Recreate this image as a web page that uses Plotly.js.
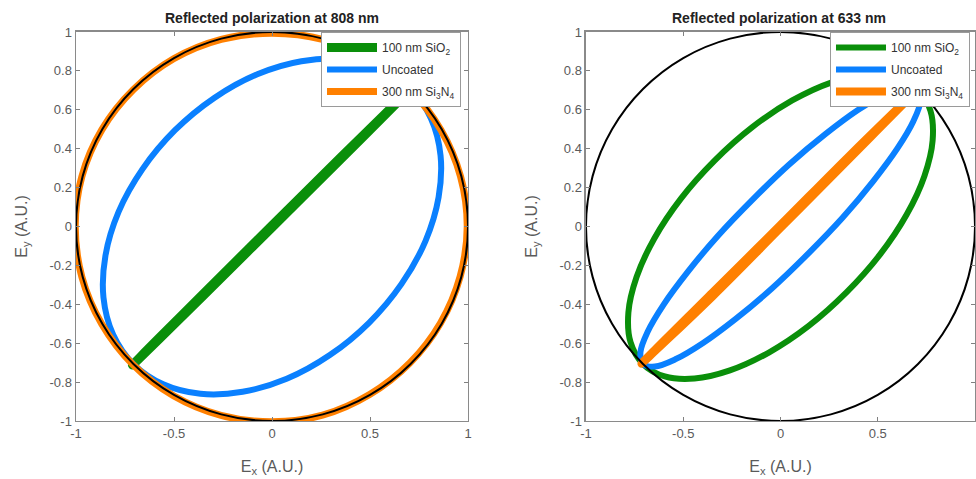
<!DOCTYPE html>
<html>
<head>
<meta charset="utf-8">
<script src="https://cdn.plot.ly/plotly-3.0.1.min.js"></script>
<style>html,body{margin:0;padding:0;background:#fff;}#chart{width:976px;height:479px;}</style>
</head>
<body>
<div id="chart"></div>
<script>
// ---- Data ----
const seriesNames = ["100 nm SiO<sub>2</sub>", "Uncoated", "300 nm Si<sub>3</sub>N<sub>4</sub>"];
const panelTitles = ["Reflected polarization at 808 nm", "Reflected polarization at 633 nm"];
const xTickVals = [-1, -0.5, 0, 0.5, 1];
const xTickText = ["-1", "-0.5", "0", "0.5", "1"];
const yTickVals = [-1, -0.8, -0.6, -0.4, -0.2, 0, 0.2, 0.4, 0.6, 0.8, 1];
const yTickText = ["-1", "-0.8", "-0.6", "-0.4", "-0.2", "0", "0.2", "0.4", "0.6", "0.8", "1"];

// Reference unit circle (black)
const circleX = [1, 0.966, 0.866, 0.707, 0.5, 0.259, 0, -0.259, -0.5, -0.707, -0.866, -0.966, -1, -0.966, -0.866, -0.707, -0.5, -0.259, 0, 0.259, 0.5, 0.707, 0.866, 0.966, 1];
const circleY = [0, 0.259, 0.5, 0.707, 0.866, 0.966, 1, 0.966, 0.866, 0.707, 0.5, 0.259, 0, -0.259, -0.5, -0.707, -0.866, -0.966, -1, -0.966, -0.866, -0.707, -0.5, -0.259, 0];

// 808 nm panel
const sio2_808_x = [-0.712, -0.35, 0, 0.35, 0.707, 0.35, 0, -0.35, -0.712];
const sio2_808_y = [-0.712, -0.345, 0.005, 0.355, 0.707, 0.345, -0.005, -0.355, -0.712];
const unc_808_x = [0.707, 0.811, 0.860, 0.850, 0.783, 0.661, 0.495, 0.295, 0.075, -0.150, -0.365, -0.555, -0.707, -0.811, -0.860, -0.850, -0.783, -0.661, -0.495, -0.295, -0.075, 0.150, 0.365, 0.555, 0.707];
const unc_808_y = [0.707, 0.555, 0.365, 0.150, -0.075, -0.295, -0.495, -0.661, -0.783, -0.850, -0.860, -0.811, -0.707, -0.555, -0.365, -0.150, 0.075, 0.295, 0.495, 0.661, 0.783, 0.850, 0.860, 0.811, 0.707];
const si3n4_808_x = [0.996, 0.962, 0.862, 0.704, 0.497, 0.257, 0, -0.259, -0.502, -0.708, -0.868, -0.970, -1.004, -0.970, -0.868, -0.710, -0.503, -0.260, 0, 0.258, 0.498, 0.703, 0.860, 0.960, 0.996];
const si3n4_808_y = [0, 0.257, 0.496, 0.703, 0.862, 0.962, 0.994, 0.962, 0.862, 0.703, 0.498, 0.258, 0, -0.260, -0.503, -0.710, -0.870, -0.971, -1.004, -0.970, -0.864, -0.702, -0.496, -0.257, 0];

// 633 nm panel
const sio2_633_x = [0.707, 0.771, 0.782, 0.740, 0.648, 0.511, 0.339, 0.145, -0.060, -0.260, -0.442, -0.595, -0.707, -0.771, -0.782, -0.740, -0.648, -0.511, -0.339, -0.145, 0.060, 0.260, 0.442, 0.595, 0.707];
const sio2_633_y = [0.707, 0.595, 0.442, 0.260, 0.060, -0.145, -0.339, -0.511, -0.648, -0.740, -0.782, -0.771, -0.707, -0.595, -0.442, -0.260, -0.060, 0.145, 0.339, 0.511, 0.648, 0.740, 0.782, 0.771, 0.707];
const unc_633_x = [0.707, 0.720, 0.683, 0.600, 0.476, 0.320, 0.141, -0.046, -0.232, -0.400, -0.541, -0.646, -0.707, -0.720, -0.683, -0.600, -0.476, -0.320, -0.141, 0.046, 0.232, 0.400, 0.541, 0.646, 0.707];
const unc_633_y = [0.707, 0.646, 0.541, 0.400, 0.232, 0.046, -0.141, -0.320, -0.476, -0.600, -0.683, -0.720, -0.707, -0.646, -0.541, -0.400, -0.232, -0.046, 0.141, 0.320, 0.476, 0.600, 0.683, 0.720, 0.707];
const si3n4_633_x = [0.705, 0.35, 0.0, -0.35, -0.715, -0.35, 0.0, 0.35, 0.705];
const si3n4_633_y = [0.705, 0.345, -0.008, -0.36, -0.705, -0.34, 0.008, 0.36, 0.705];

// ---- Styles ----
const colors = ["#0a8f0a", "#0a80ff", "#ff8000"];
const FONT = "Liberation Sans, Arial, Helvetica, sans-serif";

function tr(x, y, i, panel, width) {
  return {
    x: x, y: y, type: "scatter", mode: "lines",
    name: seriesNames[i],
    line: {color: colors[i], width: width, shape: "spline", smoothing: 1},
    xaxis: panel === 0 ? "x" : "x2",
    yaxis: panel === 0 ? "y" : "y2",
    legend: panel === 0 ? "legend" : "legend2",
    legendgroup: "g" + i + "p" + panel,
    hoverinfo: "skip"
  };
}
function circ(panel) {
  return {
    x: circleX, y: circleY, type: "scatter", mode: "lines", showlegend: false,
    line: {color: "#000", width: 2, shape: "spline", smoothing: 1},
    xaxis: panel === 0 ? "x" : "x2", yaxis: panel === 0 ? "y" : "y2", hoverinfo: "skip"
  };
}

const data = [
  tr(sio2_808_x, sio2_808_y, 0, 0, 9),
  tr(unc_808_x, unc_808_y, 1, 0, 6),
  tr(si3n4_808_x, si3n4_808_y, 2, 0, 7),
  circ(0),
  tr(sio2_633_x, sio2_633_y, 0, 1, 6),
  tr(unc_633_x, unc_633_y, 1, 1, 6),
  tr(si3n4_633_x, si3n4_633_y, 2, 1, 8),
  circ(1)
];

function xax(domain, anchor) {
  return {
    domain: domain, anchor: anchor, range: [-1, 1], tickvals: xTickVals, ticktext: xTickText,
    ticks: "inside", ticklen: 4, tickcolor: "#808080", mirror: "ticks",
    showline: true, linecolor: "#8a8a8a", linewidth: 1.5, showgrid: false, zeroline: false,
    tickfont: {family: FONT, size: 13, color: "#5a5a5a"},
    title: {text: "E<sub>x</sub> (A.U.)", font: {family: FONT, size: 16, color: "#5a5a5a"}, standoff: 20},
    fixedrange: true
  };
}
function yax(domain, anchor) {
  return {
    domain: domain, anchor: anchor, range: [-1, 1], tickvals: yTickVals, ticktext: yTickText,
    ticks: "inside", ticklen: 4, tickcolor: "#808080", mirror: "ticks",
    showline: true, linecolor: "#8a8a8a", linewidth: 1.5, showgrid: false, zeroline: false,
    tickfont: {family: FONT, size: 13, color: "#5a5a5a"},
    title: {text: "E<sub>y</sub> (A.U.)", font: {family: FONT, size: 16, color: "#5a5a5a"}, standoff: 18},
    fixedrange: true
  };
}
function leg(x) {
  return {
    x: x, y: 0.9332, xanchor: "left", yanchor: "top", xref: "paper", yref: "paper",
    bgcolor: "#ffffff", bordercolor: "#9a9a9a", borderwidth: 1,
    font: {family: FONT, size: 12, color: "#333"},
    traceorder: "grouped", tracegroupgap: 3, itemwidth: 50
  };
}

const yDom = [0.1211, 0.9332];
const layout = {
  width: 976, height: 479,
  margin: {l: 0, r: 0, t: 0, b: 0},
  paper_bgcolor: "#fff", plot_bgcolor: "#fff",
  font: {family: FONT},
  xaxis: xax([0.0779, 0.4795], "y"),
  yaxis: yax(yDom, "x"),
  xaxis2: xax([0.6004, 0.999], "y2"),
  yaxis2: yax(yDom, "x2"),
  legend: leg(0.3289),
  legend2: leg(0.8504),
  annotations: [
    {text: "<b>" + panelTitles[0] + "</b>", x: 0.2787, xref: "paper", y: 1 - 18/479, yref: "paper",
     showarrow: false, xanchor: "center", yanchor: "middle", font: {family: FONT, size: 14, color: "#222"}},
    {text: "<b>" + panelTitles[1] + "</b>", x: 0.7982, xref: "paper", y: 1 - 18/479, yref: "paper",
     showarrow: false, xanchor: "center", yanchor: "middle", font: {family: FONT, size: 14, color: "#222"}}
  ],
  showlegend: true
};

Plotly.newPlot("chart", data, layout, {staticPlot: true, displayModeBar: false});
</script>
</body>
</html>
